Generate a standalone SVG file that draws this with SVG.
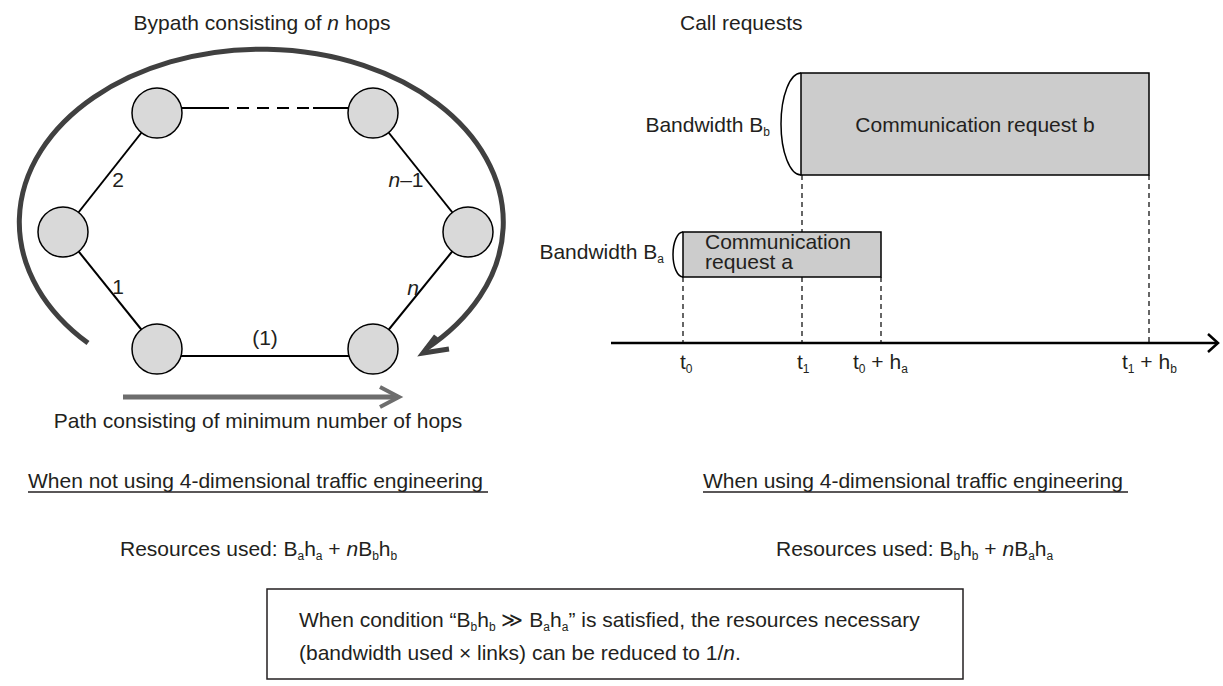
<svg xmlns="http://www.w3.org/2000/svg" width="1223" height="686" viewBox="0 0 1223 686">
<style>
text{font-family:"Liberation Sans",Arial,sans-serif;font-size:21px;fill:#231f20}
.sub{font-size:12px}
.it{font-style:italic}
.node{fill:#d9d9d9;stroke:#000;stroke-width:1.5}
.edge{stroke:#000;stroke-width:2;fill:none}
.dash{stroke:#000;stroke-width:1.2;stroke-dasharray:5 4;fill:none}
.req{fill:#cccccc;stroke:#000;stroke-width:1.5}
.brace{fill:none;stroke:#000;stroke-width:1.5}
</style>
<rect width="1223" height="686" fill="#fff"/>
<g id="connectors">
<line class="edge" x1="63" y1="232" x2="157" y2="113"/>
<line class="edge" x1="63" y1="232" x2="157" y2="349"/>
<line class="edge" x1="373" y1="113" x2="468" y2="232"/>
<line class="edge" x1="468" y1="232" x2="373" y2="349"/>
<line class="edge" x1="157" y1="108" x2="217" y2="108"/>
<line class="edge" x1="217" y1="108" x2="313" y2="108" stroke-dasharray="12 8"/>
<line class="edge" x1="313" y1="108" x2="373" y2="108"/>
<line class="edge" x1="157" y1="356" x2="373" y2="356"/>
<path d="M88 343 A242 173 0 1 1 426 349" fill="none" stroke="#404040" stroke-width="5"/>
<path d="M436 336 L423 353 L449 349" fill="none" stroke="#404040" stroke-width="5"/>
<line x1="123" y1="397" x2="398" y2="397" stroke="#6d6d6d" stroke-width="5"/>
<path d="M380 387 L399 397 L380 407" fill="none" stroke="#6d6d6d" stroke-width="4"/>
<line x1="611" y1="343" x2="1217" y2="343" stroke="#000" stroke-width="2.5"/>
<path d="M1208 334 L1218 343 L1208 352" fill="none" stroke="#000" stroke-width="2.5"/>
<line class="dash" x1="683" y1="277" x2="683" y2="343"/>
<line class="dash" x1="802" y1="175" x2="802" y2="232"/>
<line class="dash" x1="802" y1="277" x2="802" y2="343"/>
<line class="dash" x1="881" y1="277" x2="881" y2="343"/>
<line class="dash" x1="1149" y1="175" x2="1149" y2="343"/>
</g>
<g id="node-top-left"><circle class="node" cx="157" cy="113" r="25"/></g>
<g id="node-top-right"><circle class="node" cx="373" cy="113" r="25"/></g>
<g id="node-left"><circle class="node" cx="63" cy="232" r="25"/></g>
<g id="node-right"><circle class="node" cx="468" cy="232" r="25"/></g>
<g id="node-bottom-left"><circle class="node" cx="157" cy="349" r="25"/></g>
<g id="node-bottom-right"><circle class="node" cx="373" cy="349" r="25"/></g>
<g id="labels-left">
<text x="262" y="30" text-anchor="middle">Bypath consisting of <tspan class="it">n</tspan> hops</text>
<text x="118" y="187" text-anchor="middle">2</text>
<text x="118" y="294" text-anchor="middle">1</text>
<text x="406" y="187" text-anchor="middle"><tspan class="it">n</tspan>–1</text>
<text x="413" y="295" text-anchor="middle" class="it">n</text>
<text x="265" y="345" text-anchor="middle">(1)</text>
<text x="258" y="428" text-anchor="middle">Path consisting of minimum number of hops</text>
</g>
<g id="request-b">
<rect class="req" x="801" y="73" width="348" height="102"/>
<path class="brace" d="M801 73 A20 51 0 0 0 801 175"/>
<text x="975" y="132" text-anchor="middle">Communication request b</text>
<text x="770" y="132" text-anchor="end">Bandwidth B<tspan class="sub" dy="4">b</tspan></text>
</g>
<g id="request-a">
<rect class="req" x="683" y="232" width="198" height="45"/>
<path class="brace" d="M683 232 A10 22.5 0 0 0 683 277"/>
<text x="705" y="249" font-size="17" textLength="146" lengthAdjust="spacingAndGlyphs">Communication</text>
<text x="705" y="268.5" font-size="17" textLength="88" lengthAdjust="spacingAndGlyphs">request a</text>
<text x="664" y="259" text-anchor="end">Bandwidth B<tspan class="sub" dy="4">a</tspan></text>
</g>
<g id="axis-labels">
<text x="680" y="369">t<tspan class="sub" dy="4">0</tspan></text>
<text x="797" y="369">t<tspan class="sub" dy="4">1</tspan></text>
<text x="853" y="369">t<tspan class="sub" dy="4">0</tspan><tspan dy="-4"> + h</tspan><tspan class="sub" dy="4">a</tspan></text>
<text x="1122" y="369">t<tspan class="sub" dy="4">1</tspan><tspan dy="-4"> + h</tspan><tspan class="sub" dy="4">b</tspan></text>
<text x="680" y="30">Call requests</text>
</g>
<g id="summary">
<text x="28" y="488">When not using 4-dimensional traffic engineering</text>
<line x1="28" y1="492" x2="488" y2="492" stroke="#231f20" stroke-width="1.5"/>
<text x="703" y="488">When using 4-dimensional traffic engineering</text>
<line x1="703" y1="492" x2="1128" y2="492" stroke="#231f20" stroke-width="1.5"/>
<text x="120" y="556">Resources used: B<tspan class="sub" dy="4">a</tspan><tspan dy="-4">h</tspan><tspan class="sub" dy="4">a</tspan><tspan dy="-4"> + </tspan><tspan class="it">n</tspan>B<tspan class="sub" dy="4">b</tspan><tspan dy="-4">h</tspan><tspan class="sub" dy="4">b</tspan></text>
<text x="776" y="556">Resources used: B<tspan class="sub" dy="4">b</tspan><tspan dy="-4">h</tspan><tspan class="sub" dy="4">b</tspan><tspan dy="-4"> + </tspan><tspan class="it">n</tspan>B<tspan class="sub" dy="4">a</tspan><tspan dy="-4">h</tspan><tspan class="sub" dy="4">a</tspan></text>
</g>
<g id="conclusion-box">
<rect x="267" y="589" width="696" height="90" fill="#fff" stroke="#231f20" stroke-width="1.5"/>
<text x="299" y="627">When condition “B<tspan class="sub" dy="4">b</tspan><tspan dy="-4">h</tspan><tspan class="sub" dy="4">b</tspan><tspan dy="-4"> ≫ B</tspan><tspan class="sub" dy="4">a</tspan><tspan dy="-4">h</tspan><tspan class="sub" dy="4">a</tspan><tspan dy="-4">” is satisfied, the resources necessary</tspan></text>
<text x="299" y="660">(bandwidth used × links) can be reduced to 1/<tspan class="it">n</tspan>.</text>
</g>
</svg>
